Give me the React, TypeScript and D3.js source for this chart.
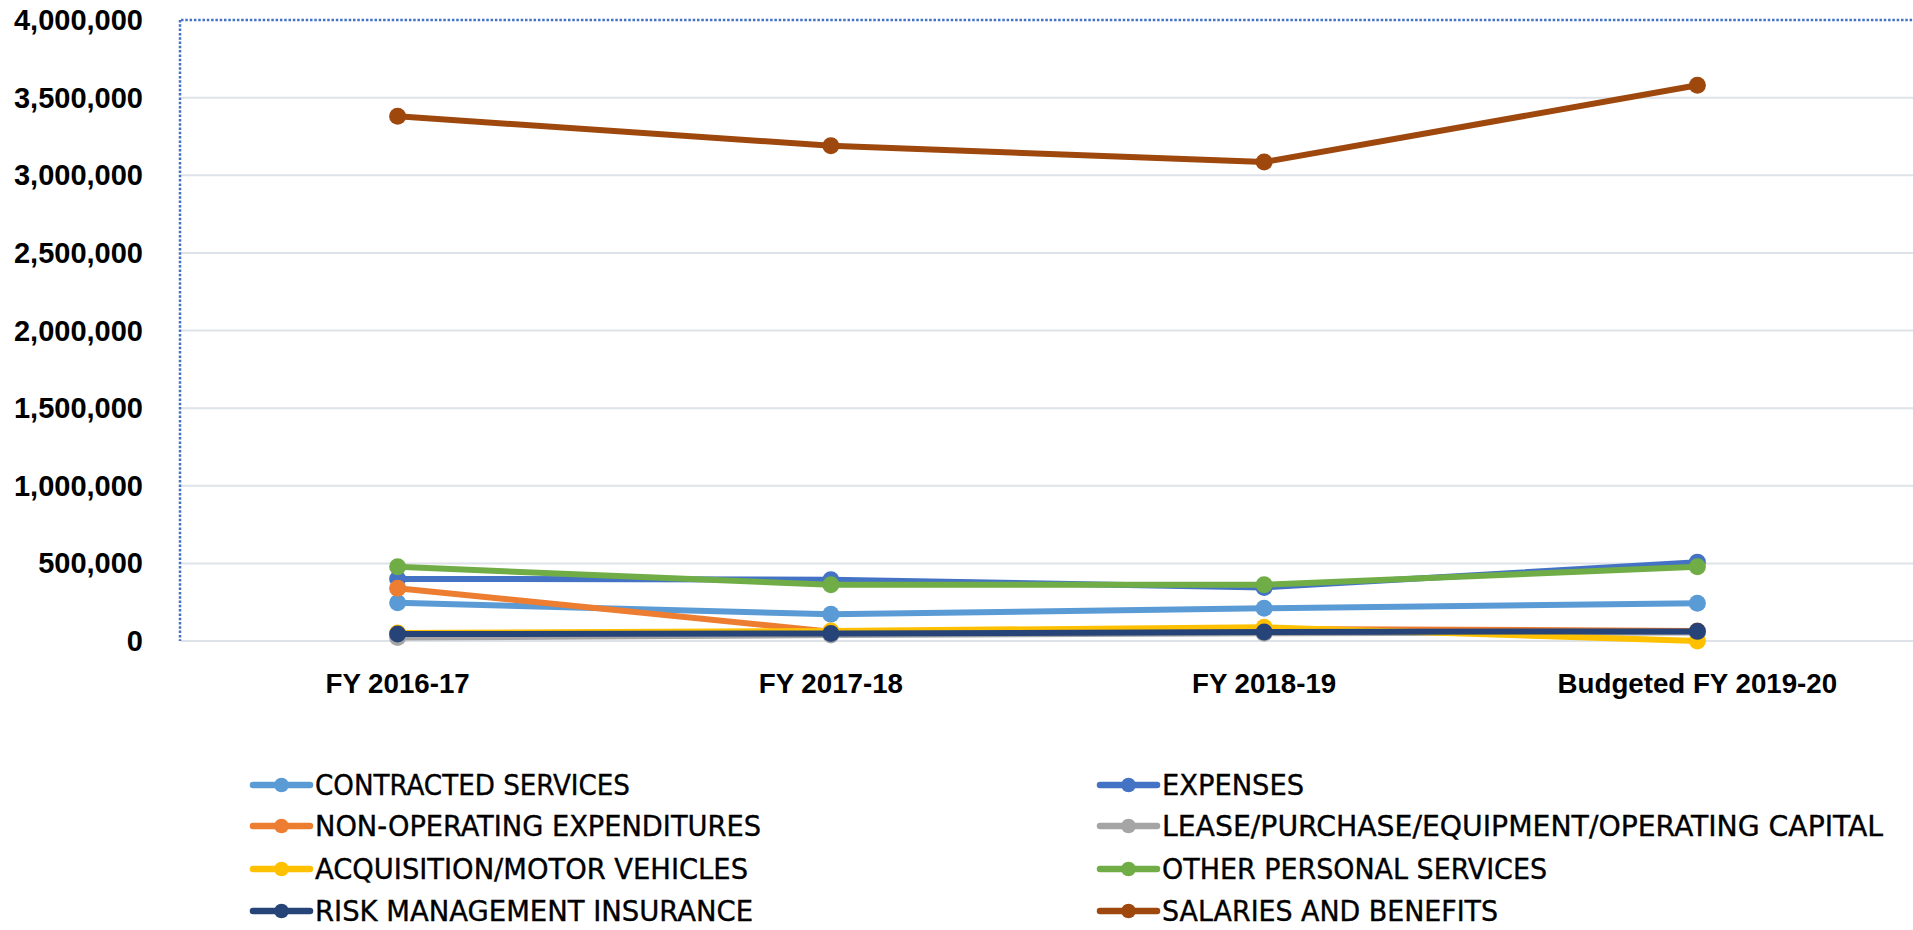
import React from "react";
import * as d3 from "d3";

const categories = ["FY 2016-17", "FY 2017-18", "FY 2018-19", "Budgeted FY 2019-20"];
const yTicks = [0, 500000, 1000000, 1500000, 2000000, 2500000, 3000000, 3500000, 4000000];

const contractedServices = [246000, 172000, 211000, 243000];
const expenses = [400000, 395000, 345000, 508000];
const nonOperating = [340000, 60000, 78000, 65000];
const leasePurchase = [22000, 38000, 50000, 55000];
const acquisitionVehicles = [52000, 65000, 88000, 0];
const otherPersonal = [478000, 362000, 362000, 478000];
const riskManagement = [45000, 48000, 58000, 62000];
const salariesBenefits = [3380000, 3190000, 3085000, 3580000];

const seriesNames = [
  "CONTRACTED SERVICES",
  "EXPENSES",
  "NON-OPERATING EXPENDITURES",
  "LEASE/PURCHASE/EQUIPMENT/OPERATING CAPITAL",
  "ACQUISITION/MOTOR VEHICLES",
  "OTHER PERSONAL SERVICES",
  "RISK MANAGEMENT INSURANCE",
  "SALARIES AND BENEFITS",
];
const seriesColors = ["#5B9BD5", "#4472C4", "#ED7D31", "#A5A5A5", "#FFC000", "#70AD47", "#264478", "#9E480E"];
const seriesValues = [
  contractedServices,
  expenses,
  nonOperating,
  leasePurchase,
  acquisitionVehicles,
  otherPersonal,
  riskManagement,
  salariesBenefits,
];

// rendered widths of the legend labels (layout)
const legendTextWidths = [315, 142, 446, 721, 433, 385, 438, 336];

const W = 1913;
const H = 930;
const plotLeft = 181;
const plotRight = 1914;
const plotTop = 20;
const plotBottom = 641;

export default function App() {
  const x = d3.scalePoint<string>().domain(categories).range([plotLeft, plotRight]).padding(0.5);
  const y = d3.scaleLinear().domain([0, 4000000]).range([plotBottom, plotTop]);
  const fmt = d3.format(",");
  const line = d3
    .line<number>()
    .x((_, i) => x(categories[i]) as number)
    .y((d) => y(d));

  const legendRows = [785, 826, 869, 911];
  const legendCols = [
    { x0: 253, x1: 310, tx: 315 },
    { x0: 1100, x1: 1157, tx: 1162 },
  ];
  const legendFont = "'Liberation Sans Narrow', 'DejaVu Sans Condensed', 'Liberation Sans', sans-serif";

  return (
    <div>
      <style>{`body{margin:0;} svg{display:block;}`}</style>
      <svg width={W} height={H} style={{ background: "#fff" }}>
        {yTicks.slice(0, -1).map((t) => (
          <line key={t} x1={plotLeft} x2={W} y1={y(t)} y2={y(t)} stroke="#DEE2E9" strokeWidth={2} />
        ))}
        <line x1={plotLeft} x2={W} y1={plotTop} y2={plotTop} stroke="#4472C4" strokeWidth={2.5} strokeDasharray="2.5 1.8" />
        <line x1={plotLeft - 1} x2={plotLeft - 1} y1={plotTop} y2={plotBottom} stroke="#4472C4" strokeWidth={2.5} strokeDasharray="2.5 1.8" />
        {yTicks.map((t) => (
          <text
            key={t}
            x={143}
            y={y(t)}
            textAnchor="end"
            dominantBaseline="central"
            fontFamily="'Liberation Sans', Arial, sans-serif"
            fontWeight="bold"
            fontSize={29}
            fill="#000"
          >
            {fmt(t)}
          </text>
        ))}
        {categories.map((c) => (
          <text
            key={c}
            x={x(c)}
            y={683}
            textAnchor="middle"
            dominantBaseline="central"
            fontFamily="'Liberation Sans', Arial, sans-serif"
            fontWeight="bold"
            fontSize={27.7}
            fill="#000"
          >
            {c}
          </text>
        ))}
        {seriesValues.map((vals, si) => (
          <g key={seriesNames[si]}>
            <path d={line(vals) || ""} fill="none" stroke={seriesColors[si]} strokeWidth={6} strokeLinejoin="round" />
            {vals.map((v, i) => (
              <circle key={i} cx={x(categories[i])} cy={y(v)} r={8.5} fill={seriesColors[si]} />
            ))}
          </g>
        ))}
        {seriesNames.map((name, i) => {
          const col = legendCols[i % 2];
          const cy = legendRows[Math.floor(i / 2)];
          return (
            <g key={name}>
              <line x1={col.x0} x2={col.x1} y1={cy} y2={cy} stroke={seriesColors[i]} strokeWidth={6.5} strokeLinecap="round" />
              <circle cx={(col.x0 + col.x1) / 2} cy={cy} r={7.3} fill={seriesColors[i]} />
              <text
                x={col.tx}
                y={cy}
                dominantBaseline="central"
                fontFamily={legendFont}
                fontSize={29}
                fill="#000"
                stroke="#000"
                strokeWidth={0.35}
                textLength={legendTextWidths[i]}
                lengthAdjust="spacingAndGlyphs"
              >
                {name}
              </text>
            </g>
          );
        })}
      </svg>
    </div>
  );
}
